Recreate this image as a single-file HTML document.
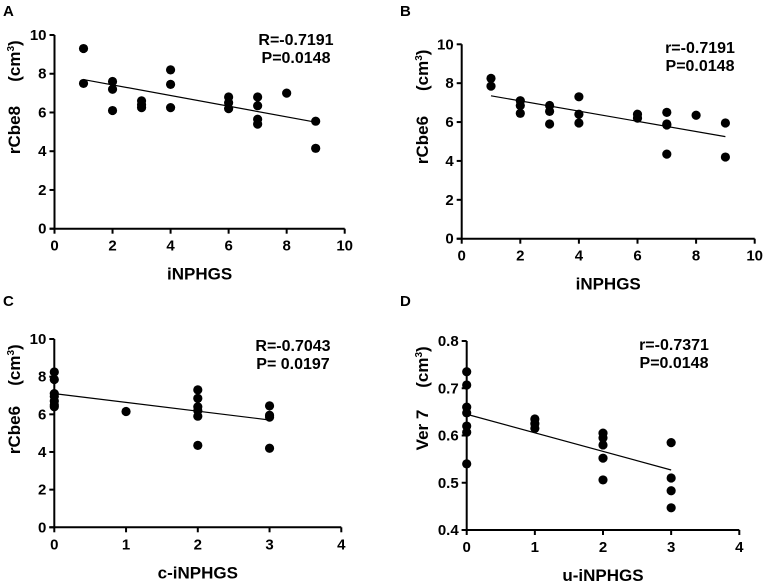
<!DOCTYPE html>
<html><head><meta charset="utf-8"><style>
html,body{margin:0;padding:0;background:#fff;}
svg{display:block;font-family:"Liberation Sans",Arial,sans-serif;}
</style></head><body>
<svg id="fig" width="767" height="585" viewBox="0 0 767 585"></svg>
<script>
// Panel A data
const aX = [1,1,2,2,2,3,3,3,4,4,4,6,6,6,7,7,7,7,8,9,9];
const aY = [9.3,7.5,7.6,7.2,6.1,6.6,6.4,6.25,8.2,7.45,6.25,6.8,6.5,6.2,6.8,6.35,5.65,5.4,7.0,5.55,4.15];
const aFit = [[1,7.7],[9,5.5]];
// Panel B data
const bX = [1,1,2,2,2,3,3,3,4,4,4,6,6,7,7,7,7,8,9,9];
const bY = [8.25,7.85,7.1,6.85,6.45,6.85,6.55,5.9,7.3,6.4,5.95,6.4,6.2,6.5,5.9,5.85,4.35,6.35,5.95,4.2];
const bFit = [[1,7.35],[9,5.25]];
// Panel C data
const cX = [0,0,0,0,0,0,0,1,2,2,2,2,2,2,3,3,3,3];
const cY = [8.25,7.85,7.1,6.95,6.7,6.5,6.4,6.15,7.3,6.85,6.4,6.2,5.9,4.35,6.45,5.95,5.85,4.2];
const cFit = [[0,7.1],[3,5.7]];
// Panel D data
const dX = [0,0,0,0,0,0,0,1,1,1,2,2,2,2,2,3,3,3,3];
const dY = [0.735,0.707,0.66,0.648,0.62,0.607,0.54,0.635,0.625,0.615,0.605,0.595,0.58,0.552,0.506,0.585,0.51,0.483,0.447];
const dFit = [[0,0.645],[3,0.527]];
// ticks
const ticks10 = [0,2,4,6,8,10];
const ticks4 = [0,1,2,3,4];
const ticksD = [0.4,0.5,0.6,0.7,0.8];
const ticksDLabels = ["0.4","0.5","0.6","0.7","0.8"];

const NS="http://www.w3.org/2000/svg";
const svg=document.getElementById('fig');
function el(tag,attrs,parent){const e=document.createElementNS(NS,tag);for(const k in attrs)e.setAttribute(k,attrs[k]);(parent||svg).appendChild(e);return e;}

function panel(p){
  const g=el('g',{});
  
  
  const sx=v=>p.x0+(v-p.xmin)/(p.xmax-p.xmin)*(p.x1-p.x0);
  const sy=v=>p.y0-(v-p.ymin)/(p.ymax-p.ymin)*(p.y0-p.y1);
  const letter=el('text',{x:p.lx,y:p.ly,'font-size':15,'font-weight':'bold'},g);letter.textContent=p.id;
  
  
  const ya=el('line',{x1:p.x0,y1:p.y0,x2:p.x0,y2:p.y1,stroke:'#000','stroke-width':2},g);
  
  
  const xa=el('line',{x1:p.x0-5,y1:p.y0,x2:p.x1,y2:p.y0,stroke:'#000','stroke-width':2},g);
  
  
  p.yt.forEach((v,i)=>{
    el('line',{x1:p.x0-5,y1:sy(v),x2:p.x0,y2:sy(v),stroke:'#000','stroke-width':2},g);
    const t=el('text',{x:p.x0-8,y:sy(v)+5,'font-size':15,'font-weight':'bold','text-anchor':'end'},g);
    t.textContent=p.ytl?p.ytl[i]:String(v);
    
    
  });
  p.xt.forEach(v=>{
    el('line',{x1:sx(v),y1:p.y0,x2:sx(v),y2:p.y0+5,stroke:'#000','stroke-width':2},g);
    const t=el('text',{x:sx(v),y:p.y0+22,'font-size':15,'font-weight':'bold','text-anchor':'middle'},g);
    t.textContent=String(v);
    
    
  });
  const xt=el('text',{x:(p.x0+p.x1)/2,y:p.y0+51,'font-size':17,'font-weight':'bold','text-anchor':'middle'},g);
  xt.textContent=p.xtitle;
  
  
  const yt=el('text',{transform:`translate(${p.ytx},${p.yty}) rotate(-90)`,'font-size':17,'font-weight':'bold','text-anchor':'middle'},g);
  yt.textContent=p.ytitle;
  
  
  const yu=el('text',{transform:`translate(${p.ytx},${p.y1+26}) rotate(-90)`,'font-size':17,'font-weight':'bold','text-anchor':'middle'},g);
  yu.innerHTML='(cm<tspan font-size="10" dy="-6">3</tspan><tspan dy="6">)</tspan>';
  
  
  p.xs.forEach((v,i)=>{
    const c=el('circle',{cx:sx(v),cy:sy(p.ys[i]),r:4.6,fill:'#000'},g);
    
    
  });
  const f=el('line',{x1:sx(p.fit[0][0]),y1:sy(p.fit[0][1]),x2:sx(p.fit[1][0]),y2:sy(p.fit[1][1]),stroke:'#000','stroke-width':1.2},g);
  
  
  p.stats.forEach((s,i)=>{
    const t=el('text',{x:p.sx,y:p.sy+i*18,'font-size':16,'font-weight':'bold','text-anchor':'middle'},g);
    t.textContent=s;
    
    
  });
}
panel({id:'A',lx:3,ly:16,x0:54.5,x1:344.7,y0:228.7,y1:35,xmin:0,xmax:10,ymin:0,ymax:10,xt:ticks10,yt:ticks10,xs:aX,ys:aY,fit:aFit,xtitle:'iNPHGS',ytitle:'rCbe8',ytx:20,yty:130,stats:['R=-0.7191','P=0.0148'],sx:296,sy:45});
panel({id:'B',lx:400,ly:16,x0:461.7,x1:754.7,y0:238.7,y1:44.3,xmin:0,xmax:10,ymin:0,ymax:10,xt:ticks10,yt:ticks10,xs:bX,ys:bY,fit:bFit,xtitle:'iNPHGS',ytitle:'rCbe6',ytx:428,yty:140,stats:['r=-0.7191','P=0.0148'],sx:700,sy:53});
panel({id:'C',lx:3,ly:306,x0:54.3,x1:341.3,y0:527.3,y1:339,xmin:0,xmax:4,ymin:0,ymax:10,xt:ticks4,yt:ticks10,xs:cX,ys:cY,fit:cFit,xtitle:'c-iNPHGS',ytitle:'rCbe6',ytx:20,yty:430,stats:['R=-0.7043','P= 0.0197'],sx:293,sy:351});
panel({id:'D',lx:400,ly:306,x0:466.7,x1:739.3,y0:530,y1:341,xmin:0,xmax:4,ymin:0.4,ymax:0.8,xt:ticks4,yt:ticksD,ytl:ticksDLabels,xs:dX,ys:dY,fit:dFit,xtitle:'u-iNPHGS',ytitle:'Ver 7',ytx:428,yty:430,stats:['r=-0.7371','P=0.0148'],sx:674,sy:350});
</script>
</body></html>
